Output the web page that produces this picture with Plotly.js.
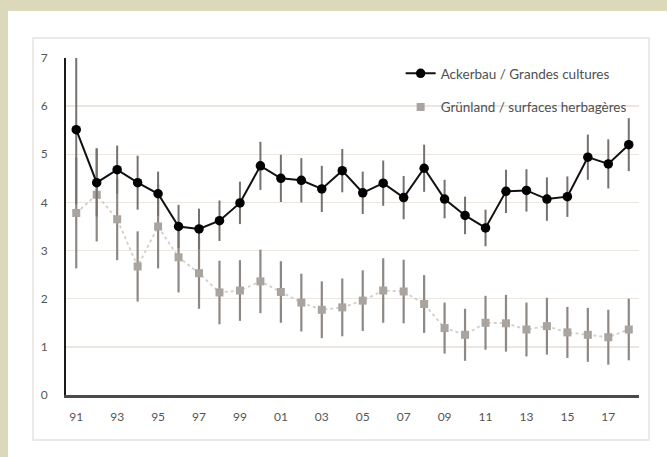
<!DOCTYPE html>
<html>
<head>
<meta charset="utf-8">
<script src="https://cdn.plot.ly/plotly-3.0.1.min.js"></script>
<style>
  html, body { margin: 0; padding: 0; background: #dcd9bb; width: 667px; height: 457px; overflow: hidden; }
  #chart { position: absolute; left: 8px; top: 11px; width: 659px; height: 446px; background: #ffffff; }
</style>
</head>
<body>
<div id="chart"></div>
<script>
const years = ["91","92","93","94","95","96","97","98","99","00","01","02","03","04","05","06","07","08","09","10","11","12","13","14","15","16","17","18"];
const tickYears = ["91","93","95","97","99","01","03","05","07","09","11","13","15","17"];

const ackerbau = [5.51,4.41,4.68,4.41,4.18,3.50,3.45,3.62,3.99,4.76,4.50,4.46,4.28,4.66,4.20,4.40,4.10,4.71,4.07,3.73,3.47,4.23,4.25,4.07,4.12,4.94,4.80,5.20];
const ackerbauErr = [1.55,0.70,0.50,0.56,0.46,0.45,0.42,0.42,0.44,0.50,0.49,0.46,0.48,0.45,0.44,0.47,0.45,0.49,0.40,0.39,0.38,0.45,0.44,0.45,0.42,0.47,0.51,0.55];

const gruenland = [3.78,4.16,3.65,2.67,3.50,2.86,2.53,2.13,2.17,2.36,2.14,1.92,1.77,1.82,1.96,2.17,2.15,1.89,1.39,1.25,1.50,1.49,1.36,1.43,1.30,1.25,1.20,1.36];
const gruenlandErr = [1.15,0.97,0.85,0.73,0.87,0.73,0.74,0.66,0.63,0.66,0.64,0.60,0.59,0.60,0.63,0.67,0.66,0.60,0.53,0.54,0.56,0.59,0.56,0.59,0.53,0.56,0.57,0.64];

const seriesNames = ["Ackerbau / Grandes cultures", "Grünland / surfaces herbagères"];
const yTicks = [0,1,2,3,4,5,6,7];

const traces = [
  {
    x: years, y: gruenland, type: "scatter", mode: "lines",
    line: {color: "#d2cec9", width: 1.8, dash: "dot"},
    showlegend: false, hoverinfo: "skip"
  },
  {
    x: years, y: gruenland, type: "scatter", mode: "markers",
    name: seriesNames[1], legend: "legend2",
    marker: {symbol: "square", size: 8, color: "#aaa49f"},
    error_y: {type: "data", array: gruenlandErr, visible: true, color: "#8e8884", thickness: 2.2, width: 0}
  },
  {
    x: years, y: ackerbau, type: "scatter", mode: "lines+markers",
    name: seriesNames[0], legend: "legend",
    line: {color: "#111111", width: 2},
    marker: {symbol: "circle", size: 9.5, color: "#000000"},
    error_y: {type: "data", array: ackerbauErr, visible: true, color: "#77716d", thickness: 2, width: 0}
  }
];

const legendFont = {family: "Lato, 'Open Sans', sans-serif", size: 13.5, color: "#505050"};

const layout = {
  width: 659, height: 446,
  margin: {l: 58, r: 28, t: 47, b: 62},
  paper_bgcolor: "#ffffff",
  plot_bgcolor: "#ffffff",
  showlegend: true,
  xaxis: {
    type: "category",
    categoryorder: "array", categoryarray: years,
    range: [-0.5, 27.5],
    tickmode: "array", tickvals: tickYears, ticktext: tickYears,
    showgrid: false, zeroline: false,
    showline: true, linecolor: "#4a4a4a", linewidth: 2.5,
    ticks: "", ticklabelstandoff: 9,
    tickfont: {family: "Lato, 'Open Sans', sans-serif", size: 12, color: "#555555"},
    fixedrange: true
  },
  yaxis: {
    range: [0, 7],
    tickmode: "array", tickvals: yTicks,
    showgrid: true, gridcolor: "#ebe7df", gridwidth: 1.5,
    zeroline: false,
    showline: true, linecolor: "#1a1a1a", linewidth: 2,
    ticks: "", ticklabelstandoff: 14,
    tickfont: {family: "Lato, 'Open Sans', sans-serif", size: 12, color: "#555555"},
    fixedrange: true
  },
  legend: {
    x: 0.584, y: 1.0, xanchor: "left", yanchor: "top",
    bgcolor: "rgba(0,0,0,0)", borderwidth: 0,
    font: legendFont
  },
  legend2: {
    x: 0.584, y: 0.90, xanchor: "left", yanchor: "top",
    bgcolor: "rgba(0,0,0,0)", borderwidth: 0,
    font: legendFont
  },
  shapes: [
    {type: "rect", xref: "paper", yref: "paper",
     x0: -0.0576, x1: 1.0175, y0: -0.1335, y1: 1.0593,
     line: {color: "#e6e3de", width: 1.5}, fillcolor: "rgba(0,0,0,0)", layer: "below"}
  ]
};

Plotly.newPlot("chart", traces, layout, {staticPlot: true, displayModeBar: false});
</script>
</body>
</html>
